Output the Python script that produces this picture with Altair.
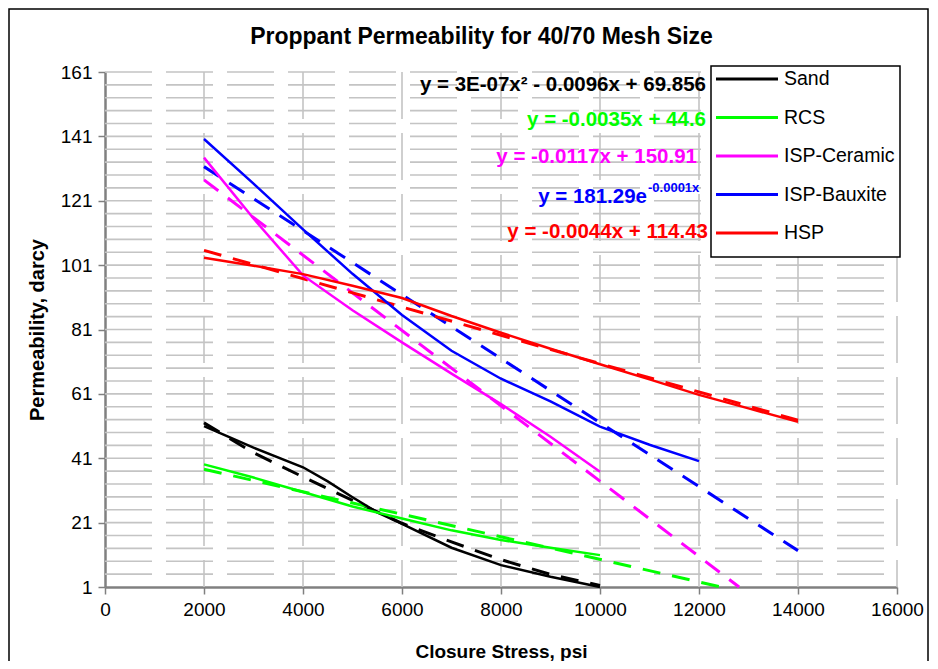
import altair as alt
import pandas as pd

# ---------------- data ----------------
SERIES = ["Sand", "RCS", "ISP-Ceramic", "ISP-Bauxite", "HSP"]
COLORS = ["#000000", "#00ff00", "#ff00ff", "#0000ff", "#ff0000"]

SAND_X = [2000, 3000, 4000, 4500, 5000, 5500, 6000, 7000, 8000, 9000, 10000]
SAND_Y = [51.0, 44.3, 38.2, 33.8, 28.9, 24.2, 20.6, 13.2, 7.8, 4.2, 1.0]

RCS_X = [2000, 3000, 4000, 5000, 6000, 7000, 8000, 9000, 10000]
RCS_Y = [39.1, 35.0, 30.5, 26.0, 22.3, 18.6, 15.6, 13.2, 10.9]

CER_X = [2000, 3000, 4000, 5000, 6000, 7000, 8000, 9000, 10000]
CER_Y = [134.4, 115.5, 97.8, 87.0, 77.0, 67.3, 57.8, 47.7, 36.8]

BAUX_X = [2000, 3000, 4000, 5000, 6000, 7000, 8000, 9000, 10000, 11000, 12000]
BAUX_Y = [140.2, 126.3, 112.1, 98.3, 85.5, 74.4, 65.7, 58.7, 50.8, 45.2, 40.1]

HSP_X = [2000, 3000, 4000, 5000, 6000, 7000, 8000, 9000, 10000, 11000, 12000, 13000, 14000]
HSP_Y = [103.3, 100.8, 98.2, 94.6, 90.8, 85.2, 80.0, 75.0, 70.2, 65.5, 60.7, 56.5, 52.3]

# trendlines (dashed)
SAND_TX = [2000, 3000, 4000, 5000, 6000, 7000, 8000, 9000, 10000]
SAND_TY = [52.0, 42.7, 35.2, 27.9, 20.8, 15.0, 9.5, 4.9, 1.5]
RCS_TX = [2000, 12450]
RCS_TY = [37.6, 1.0]
CER_TX = [2000, 12810]
CER_TY = [127.5, 1.0]
BAUX_TX = [2000, 14000]
BAUX_TY = [131.6, 12.3]
HSP_TX = [2000, 14000]
HSP_TY = [105.6, 52.8]

X_TICKS = [0, 2000, 4000, 6000, 8000, 10000, 12000, 14000, 16000]
Y_TICKS = [1, 21, 41, 61, 81, 101, 121, 141, 161]
GRID_Y = list(range(5, 162, 4))
GRID_X = [2000, 4000, 6000, 8000, 10000, 12000, 14000, 16000]

EQUATIONS = ["y = 3E-07x\u00b2 - 0.0096x + 69.856", "y = -0.0035x + 44.6",
             "y = -0.0117x + 150.91", "y = 181.29e", "y = -0.0044x + 114.43"]
BAUX_EXP = "-0.0001x"

TITLE = "Proppant Permeability for 40/70 Mesh Size"
X_TITLE = "Closure Stress, psi"
Y_TITLE = "Permeability, darcy"

# ---------------- layout / style ----------------
W, H = 792, 515
FONT = "Liberation Sans, Arial, sans-serif"
EQ_X = [601, 601, 592, 542, 603]
EQ_Y = [13, 48, 85, 125, 160]


def rows(name, xs, ys):
    return [{"series": name, "x": x, "y": y} for x, y in zip(xs, ys)]


data_df = pd.DataFrame(rows("Sand", SAND_X, SAND_Y) + rows("RCS", RCS_X, RCS_Y)
                       + rows("ISP-Ceramic", CER_X, CER_Y) + rows("ISP-Bauxite", BAUX_X, BAUX_Y)
                       + rows("HSP", HSP_X, HSP_Y))
trend_df = pd.DataFrame(rows("Sand", SAND_TX, SAND_TY) + rows("RCS", RCS_TX, RCS_TY)
                        + rows("ISP-Ceramic", CER_TX, CER_TY) + rows("ISP-Bauxite", BAUX_TX, BAUX_TY)
                        + rows("HSP", HSP_TX, HSP_TY))

X_ENC = alt.X("x:Q", scale=alt.Scale(domain=[0, 16000], nice=False, zero=False),
              axis=alt.Axis(values=X_TICKS, title=X_TITLE, grid=False, format="d",
                            labelFont=FONT, labelFontSize=19, labelColor="#000",
                            titleFont=FONT, titleFontSize=19, titleFontWeight="bold",
                            titleColor="#000", titlePadding=23, tickSize=7, labelPadding=6,
                            tickColor="#808080", tickWidth=1.5, domainColor="#808080",
                            domainWidth=2.5, labelFlush=False, labelOverlap=False))
Y_ENC = alt.Y("y:Q", scale=alt.Scale(domain=[1, 161], nice=False, zero=False),
              axis=alt.Axis(values=Y_TICKS, title=Y_TITLE, grid=False,
                            labelFont=FONT, labelFontSize=19, labelColor="#000",
                            titleFont=FONT, titleFontSize=20, titleFontWeight="bold",
                            titleColor="#000", titlePadding=13, tickSize=7, labelPadding=6,
                            tickColor="#808080", tickWidth=1.5, domainColor="#808080",
                            domainWidth=2.5, labelFlush=False, labelOverlap=False))
COLOR_ENC = alt.Color("series:N", scale=alt.Scale(domain=SERIES, range=COLORS), legend=None)

one = pd.DataFrame({"a": [0]})

layers = []
# outer chart frame
layers.append(alt.Chart(one).mark_rect(fill="white", fillOpacity=0, stroke="#000", strokeWidth=1.5)
              .encode(x=alt.value(-96), x2=alt.value(823), y=alt.value(-63), y2=alt.value(640)))
# gridlines
layers.append(alt.Chart(pd.DataFrame({"y": GRID_Y}))
              .mark_rule(color="#c4c4c4", strokeWidth=1.6, strokeDash=[47, 14])
              .encode(y=Y_ENC, x=alt.value(0), x2=alt.value(W)))
layers.append(alt.Chart(pd.DataFrame({"x": GRID_X}))
              .mark_rule(color="#c4c4c4", strokeWidth=1.6, strokeDash=[47, 14])
              .encode(x=X_ENC, y=alt.value(0), y2=alt.value(H)))
# trendlines
layers.append(alt.Chart(trend_df).mark_line(strokeWidth=3, strokeDash=[18, 12])
              .encode(x=X_ENC, y=Y_ENC, color=COLOR_ENC))
# data lines
layers.append(alt.Chart(data_df).mark_line(strokeWidth=2.5)
              .encode(x=X_ENC, y=Y_ENC, color=COLOR_ENC))

# trendline equations
for i, eq in enumerate(EQUATIONS):
    layers.append(alt.Chart(pd.DataFrame({"t": [eq]}))
                  .mark_text(font=FONT, fontSize=20.5, fontWeight="bold", color=COLORS[i],
                             align="right", baseline="middle")
                  .encode(text="t:N", x=alt.value(EQ_X[i]), y=alt.value(EQ_Y[i])))
layers.append(alt.Chart(pd.DataFrame({"t": [BAUX_EXP]}))
              .mark_text(font=FONT, fontSize=13, fontWeight="bold", color=COLORS[3],
                         align="left", baseline="middle")
              .encode(text="t:N", x=alt.value(EQ_X[3] + 1), y=alt.value(EQ_Y[3] - 9)))

# legend
layers.append(alt.Chart(one).mark_rect(fill="white", stroke="#000", strokeWidth=1.5)
              .encode(x=alt.value(606), x2=alt.value(795), y=alt.value(-6), y2=alt.value(185)))
for i, name in enumerate(SERIES):
    yy = 7 + i * 38.5
    layers.append(alt.Chart(pd.DataFrame({"t": [name]})).mark_rule(color=COLORS[i], strokeWidth=3)
                  .encode(x=alt.value(611), x2=alt.value(673), y=alt.value(yy)))
    layers.append(alt.Chart(pd.DataFrame({"t": [name]}))
                  .mark_text(font=FONT, fontSize=19.5, color="#000", align="left", baseline="middle")
                  .encode(text="t:N", x=alt.value(679), y=alt.value(yy)))

# chart title
layers.append(alt.Chart(pd.DataFrame({"t": [TITLE]}))
              .mark_text(font=FONT, fontSize=23, fontWeight="bold", color="#000",
                         align="center", baseline="middle")
              .encode(text="t:N", x=alt.value(376.5), y=alt.value(-35)))

chart = alt.layer(*layers).properties(
    width=W, height=H,
    autosize=alt.AutoSizeParams(type="none"),
    padding={"left": 97, "top": 64, "right": 33, "bottom": 74},
    background="white",
).configure_view(stroke=None)

chart.save("out.html", embed_options={"renderer": "svg", "actions": False})
